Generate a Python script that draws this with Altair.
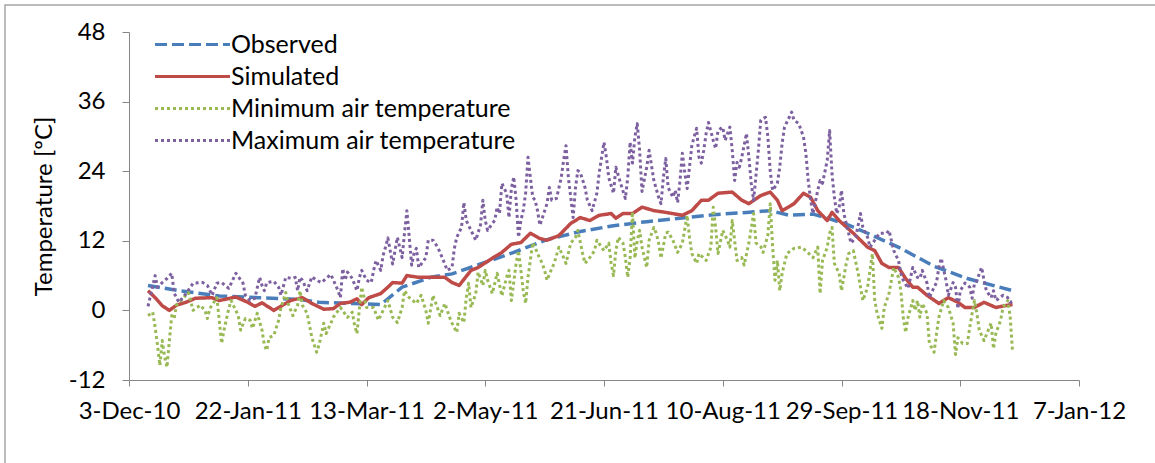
import altair as alt
import pandas as pd

# Daily series are stored as (day offset from 3-Dec-2010, value in degC)
START = "2010-12-03"
SERIES = ["Observed", "Simulated", "Minimum air temperature", "Maximum air temperature"]
COLORS = ["#4a7ebb", "#be4b48", "#98b954", "#7d60a0"]
DASHES = [[12, 5], [1, 0], [3, 3], [3, 3]]

X_TICKS = ["2010-12-03", "2011-01-22", "2011-03-13", "2011-05-02", "2011-06-21",
           "2011-08-10", "2011-09-29", "2011-11-18", "2012-01-07"]
Y_TICKS = [-12, 0, 12, 24, 36, 48]

obs_days = [8, 21, 38, 55, 72, 80, 94, 106, 115, 127, 136, 148, 162, 176, 190, 204,
            218, 232, 246, 260, 270, 278, 288, 295, 303, 311, 325, 339, 353, 372]
obs_vals = [4.3, 3.4, 2.5, 2.2, 1.9, 1.4, 1.2, 1.0, 4.0, 5.7, 6.3, 8.0, 10.0, 12.2, 13.6, 14.6,
            15.3, 15.9, 16.5, 16.9, 17.2, 16.4, 16.6, 15.8, 14.7, 13.3, 10.7, 7.6, 5.5, 3.4]

sim_days = [8, 11, 14, 17, 20, 24, 28, 35, 38, 45, 50, 53, 56, 61, 68, 73, 77, 82, 86, 89,
            93, 96, 98, 101, 106, 109, 111, 115, 117, 122, 129, 133, 136, 139, 144, 147, 153,
            157, 161, 165, 169, 173, 176, 181, 186, 190, 194, 198, 203, 205, 208, 212, 216,
            221, 226, 233, 237, 241, 244, 248, 254, 258, 261, 266, 270, 273, 275, 280, 284,
            287, 290, 294, 296, 299, 305, 311, 314, 317, 320, 324, 327, 330, 332, 336, 341,
            345, 349, 352, 356, 360, 365, 370, 372]
sim_vals = [3.4, 2.2, 0.8, 0.0, 0.9, 1.4, 2.1, 2.2, 1.7, 2.3, 1.4, 0.7, 1.3, 0.0, 1.7, 2.2,
            1.2, 0.2, 0.3, 1.2, 1.4, 2.0, 1.0, 2.2, 2.9, 4.0, 4.8, 4.7, 6.0, 5.7, 5.7, 5.7, 4.8,
            4.3, 6.9, 7.4, 9.0, 10.0, 11.4, 11.7, 13.3, 12.4, 12.1, 12.9, 15.0, 16.0, 15.5,
            16.4, 16.7, 15.9, 16.7, 16.7, 17.8, 17.2, 16.9, 16.4, 17.2, 19.0, 19.0, 20.2, 20.4,
            19.0, 18.4, 19.8, 20.4, 19.0, 17.2, 18.4, 20.2, 19.5, 17.2, 15.5, 16.9, 15.5, 13.3,
            10.9, 10.3, 8.1, 7.4, 7.4, 5.5, 4.0, 4.0, 2.6, 1.2, 2.2, 1.4, 0.5, 0.5, 1.4, 0.5,
            0.9, 1.0]

min_days = [8, 10, 11, 12, 13, 14, 15, 16, 17, 18, 19, 20, 22, 25, 27, 30, 32, 33, 34, 37,
            38, 39, 40, 42, 43, 46, 47, 49, 51, 52, 54, 56, 57, 58, 59, 61, 63, 64, 66, 67,
            69, 71, 72, 73, 75, 76, 77, 79, 80, 82, 83, 85, 86, 89, 92, 94, 95, 96, 97, 98,
            100, 103, 105, 107, 109, 111, 113, 115, 116, 118, 121, 123, 125, 126, 128, 130,
            131, 133, 135, 136, 138, 139, 141, 142, 143, 144, 146, 147, 149, 150, 151, 153,
            155, 157, 159, 160, 161, 163, 164, 165, 166, 167, 168, 170, 171, 172, 174, 175,
            176, 178, 179, 181, 183, 184, 186, 188, 189, 191, 192, 194, 196, 197, 200, 202,
            203, 204, 205, 206, 208, 209, 210, 211, 212, 213, 214, 215, 216, 218, 219, 221,
            222, 223, 224, 226, 227, 229, 231, 233, 235, 236, 237, 239, 240, 243, 245, 246,
            247, 248, 250, 252, 253, 254, 256, 258, 259, 261, 263, 264, 266, 267, 269, 270,
            271, 272, 273, 274, 275, 277, 280, 283, 285, 288, 290, 291, 292, 294, 295, 296,
            297, 299, 300, 302, 303, 305, 307, 308, 309, 311, 312, 313, 314, 315, 317, 318,
            320, 321, 322, 324, 325, 326, 327, 328, 330, 331, 332, 333, 334, 336, 337, 339,
            340, 341, 343, 345, 347, 348, 349, 351, 353, 354, 355, 356, 357, 358, 360, 363,
            364, 365, 367, 368, 370, 371, 372]
min_vals = [-0.9, -0.3, -2.9, -6.0, -9.5, -5.2, -8.0, -9.8, -5.2, -0.9, -1.4, 0.9, 1.7, 3.1,
            0.0, 0.9, 0.0, -1.4, 0.3, 2.2, -1.7, -5.7, -3.4, 0.3, 1.7, -0.9, -3.4, -1.4, -1.7,
            -3.1, -0.5, -3.4, -6.0, -6.9, -4.7, -4.3, -1.7, 0.5, 3.1, 1.2, -0.9, 0.9, 3.4, 0.9,
            -0.5, -2.6, -4.7, -7.2, -6.0, -2.2, -4.0, -2.2, -1.2, 0.5, -1.2, -0.3, -2.6, -4.0,
            0.3, 4.0, 0.5, 0.5, -1.7, 0.0, 1.7, -1.2, -2.1, 0.5, 3.4, 2.2, 1.2, 2.6, 0.0, -2.2,
            2.6, 0.3, -0.9, 1.2, -1.2, -2.2, -3.8, -0.5, -2.1, 2.2, 4.7, 0.5, 2.9, 6.6, 4.3,
            6.9, 5.2, 2.9, 6.4, 2.5, 5.7, 6.9, 1.7, 8.1, 10.3, 6.9, 3.4, 1.2, 5.7, 11.7, 10.9,
            9.8, 8.1, 6.9, 5.2, 7.2, 8.1, 10.9, 9.1, 8.1, 11.6, 12.6, 13.8, 9.8, 8.1, 9.1,
            10.3, 12.1, 10.3, 11.6, 8.1, 6.0, 10.3, 12.6, 11.6, 9.1, 5.7, 9.1, 17.0, 9.0,
            12.0, 13.8, 10.9, 7.4, 12.1, 14.3, 13.3, 11.6, 9.0, 13.3, 13.5, 12.1, 10.0, 11.6,
            16.4, 12.6, 9.8, 8.1, 9.8, 8.6, 10.9, 17.8, 14.3, 9.8, 13.8, 12.1, 10.9, 15.5,
            8.6, 9.1, 7.8, 11.6, 16.7, 11.6, 11.0, 10.0, 13.0, 18.4, 11.0, 5.2, 8.6, 3.4, 6.4,
            9.8, 10.7, 10.9, 10.3, 9.1, 10.9, 2.9, 8.6, 10.9, 13.3, 14.3, 8.1, 6.4, 3.4, 8.1,
            9.8, 10.3, 6.4, 4.0, 1.7, 4.0, 6.9, 9.8, 1.7, -0.5, -3.1, 0.5, 2.9, 5.2, 7.4, 5.7,
            3.4, -1.2, -3.8, -1.2, 1.7, 0.0, 1.7, -1.2, 1.2, -0.5, -5.7, -7.2, -4.0, -1.2, 1.7,
            0.5, -2.2, -7.6, -4.7, -5.7, -5.7, -2.9, -0.5, 1.7, -0.5, -3.4, -5.2, -2.2, -6.6,
            -4.0, -1.7, 0.5, 1.7, -1.0, -7.0]

max_days = [8, 11, 12, 14, 16, 18, 19, 21, 24, 27, 31, 33, 35, 37, 39, 42, 45, 48, 49, 51,
            53, 55, 56, 57, 58, 61, 63, 64, 66, 69, 70, 71, 72, 73, 75, 77, 79, 81, 83, 85,
            88, 89, 90, 91, 92, 94, 96, 97, 98, 100, 102, 103, 104, 106, 107, 108, 109, 111,
            113, 115, 116, 117, 118, 119, 120, 121, 122, 125, 126, 128, 130, 132, 134, 136,
            137, 138, 140, 141, 142, 144, 146, 148, 149, 150, 151, 153, 154, 155, 156, 157,
            159, 160, 161, 162, 163, 164, 165, 166, 167, 168, 169, 170, 171, 172, 173, 174,
            176, 177, 178, 180, 182, 183, 184, 185, 186, 187, 188, 189, 190, 192, 193, 195,
            197, 198, 200, 201, 202, 204, 205, 207, 209, 210, 211, 212, 213, 214, 215, 216,
            218, 219, 220, 221, 223, 224, 225, 226, 227, 229, 230, 231, 232, 233, 234, 235,
            236, 237, 239, 240, 241, 242, 243, 244, 246, 247, 248, 250, 251, 253, 254, 255,
            256, 257, 258, 260, 261, 262, 263, 265, 266, 268, 269, 270, 271, 273, 274, 275,
            276, 278, 279, 280, 282, 284, 285, 286, 287, 288, 290, 291, 292, 294, 295, 296,
            297, 298, 299, 300, 301, 303, 304, 306, 308, 309, 311, 312, 314, 316, 319, 320,
            322, 324, 325, 326, 328, 329, 330, 332, 333, 334, 336, 337, 339, 340, 341, 342,
            344, 345, 347, 348, 349, 350, 352, 354, 355, 356, 357, 359, 360, 361, 363, 364,
            365, 368, 370, 371, 372]
max_vals = [0.7, 6.0, 4.0, 4.8, 5.5, 6.4, 3.0, 1.4, 2.9, 4.7, 4.8, 4.3, 2.6, 4.7, 4.8, 3.8,
            6.4, 4.7, 2.6, 1.7, 2.1, 5.7, 4.3, 3.4, 4.8, 5.0, 4.0, 2.6, 5.7, 5.5, 5.7, 3.4, 5.7,
            5.2, 3.4, 5.8, 5.2, 4.8, 5.5, 6.2, 3.4, 2.2, 7.2, 5.2, 6.6, 5.5, 3.4, 5.7, 6.9, 5.2,
            4.8, 6.9, 8.6, 6.9, 9.5, 10.9, 12.5, 8.0, 12.6, 9.1, 13.3, 17.2, 12.6, 7.8, 9.8,
            10.7, 7.4, 9.1, 12.1, 12.1, 10.9, 9.0, 6.9, 7.4, 10.7, 12.6, 14.3, 18.6, 15.5,
            13.8, 12.1, 14.7, 19.0, 15.5, 13.8, 15.0, 15.5, 17.8, 16.7, 21.9, 20.2, 16.0,
            21.0, 23.0, 19.0, 12.6, 15.5, 17.2, 20.2, 26.4, 22.9, 19.5, 19.0, 17.2, 14.7,
            15.9, 18.4, 21.2, 19.0, 19.3, 22.9, 25.9, 28.4, 22.9, 19.5, 16.0, 21.2, 24.1,
            23.8, 21.2, 19.0, 17.2, 20.2, 23.8, 29.0, 26.4, 22.9, 20.2, 24.7, 21.9, 19.3,
            22.9, 29.0, 25.4, 29.9, 32.2, 27.6, 20.5, 24.7, 27.6, 25.0, 22.4, 19.5, 18.4,
            22.9, 26.2, 21.2, 19.5, 20.7, 18.6, 22.4, 27.1, 23.8, 21.0, 24.7, 28.5, 31.4,
            26.4, 25.4, 27.6, 30.5, 32.4, 29.3, 27.9, 31.0, 31.6, 29.3, 31.6, 27.6, 22.4,
            25.5, 24.7, 26.4, 30.5, 26.4, 21.9, 19.0, 27.6, 32.8, 33.3, 29.9, 24.0, 20.7,
            21.9, 24.7, 28.8, 31.6, 33.3, 34.2, 32.8, 32.2, 29.9, 27.1, 22.4, 19.0, 16.7,
            20.7, 22.4, 21.9, 25.9, 31.0, 23.6, 19.5, 16.7, 17.8, 20.7, 16.7, 13.3, 11.6,
            12.6, 16.7, 14.3, 12.6, 10.9, 12.1, 13.3, 13.3, 13.8, 10.3, 8.6, 6.4, 5.2, 3.8,
            5.5, 7.4, 5.7, 5.5, 6.9, 4.7, 2.2, 4.0, 4.8, 7.4, 9.0, 5.2, 2.6, 4.8, 4.0, 0.3,
            3.4, 4.7, 4.0, 2.1, 4.7, 5.2, 7.4, 5.2, 3.4, 2.2, 3.4, 1.7, 2.6, 2.2, 1.4, 1.5]

FONT = "Lato"
FS = 24
LEGEND_FS = 25


def series_frame(name, days, vals):
    dates = pd.Timestamp(START) + pd.to_timedelta(days, unit="D")
    return pd.DataFrame({"date": dates.strftime("%Y-%m-%d"), "temp": vals, "series": name})


data = pd.concat([
    series_frame(SERIES[0], obs_days, obs_vals),
    series_frame(SERIES[1], sim_days, sim_vals),
    series_frame(SERIES[2], min_days, min_vals),
    series_frame(SERIES[3], max_days, max_vals),
], ignore_index=True)


def utc_date(s):
    t = pd.Timestamp(s)
    return alt.DateTime(year=t.year, month=t.month, date=t.day, utc=True)


x_enc = alt.X(
    "date:T",
    scale=alt.Scale(type="utc", domain=[utc_date(X_TICKS[0]), utc_date(X_TICKS[-1])]),
    axis=alt.Axis(
        values=[utc_date(s) for s in X_TICKS],
        labelExpr="utcFormat(datum.value, '%-d-%b-%y')",
        title=None, grid=False, labelFont=FONT, labelFontSize=FS, labelColor="#000000",
        labelPadding=13, tickSize=6, tickColor="#868686", domainColor="#868686",
        labelFlush=False, labelOverlap=False,
    ),
)
y_enc = alt.Y(
    "temp:Q",
    scale=alt.Scale(domain=[-12, 48], nice=False, zero=False),
    axis=alt.Axis(
        values=Y_TICKS, labelExpr="'' + datum.value", title="Temperature [ºC]", grid=False,
        labelFont=FONT, labelFontSize=FS, labelColor="#000000", labelPadding=17, tickSize=7,
        tickColor="#868686", domainColor="#868686", titleFont=FONT, titleFontSize=FS,
        titleFontWeight="normal", titleColor="#000000", titlePadding=12,
    ),
)
# long horizontal stroke used as the legend swatch
SWATCH = "M-5,0H5"
color_enc = alt.Color(
    "series:N",
    scale=alt.Scale(domain=SERIES, range=COLORS),
    legend=alt.Legend(
        orient="none", legendX=51, legendY=0, title=None, symbolType=SWATCH,
        symbolSize=225, symbolStrokeWidth=3, labelFont=FONT, labelFontSize=LEGEND_FS,
        labelColor="#000000", labelOffset=26, labelLimit=500, rowPadding=6, padding=0,
    ),
)
dash_enc = alt.StrokeDash("series:N", scale=alt.Scale(domain=SERIES, range=DASHES))

layers = []
for name, width in zip(SERIES, [3.5, 3.5, 3, 3]):
    layers.append(
        alt.Chart(data)
        .transform_filter(alt.datum.series == name)
        .mark_line(strokeWidth=width, strokeCap="butt", strokeJoin="round")
        .encode(x=x_enc, y=y_enc, color=color_enc, strokeDash=dash_enc)
    )

# light outer border of the chart area
border = (
    alt.Chart(alt.Data(values=[{"k": 1}]))
    .mark_rect(fillOpacity=0, stroke="#a6a6a6", strokeWidth=1.5)
    .encode(x=alt.value(-124), y=alt.value(-27), x2=alt.value(1100), y2=alt.value(500))
)

chart = (
    alt.layer(border, *layers)
    .properties(
        width=950, height=348,
        padding={"left": 129, "top": 32, "right": 76, "bottom": 83},
        autosize=alt.AutoSizeParams(type="none"),
        background="#ffffff",
    )
    .configure_view(strokeWidth=0)
)

chart.save("out.html", embed_options={"renderer": "svg", "actions": False})
